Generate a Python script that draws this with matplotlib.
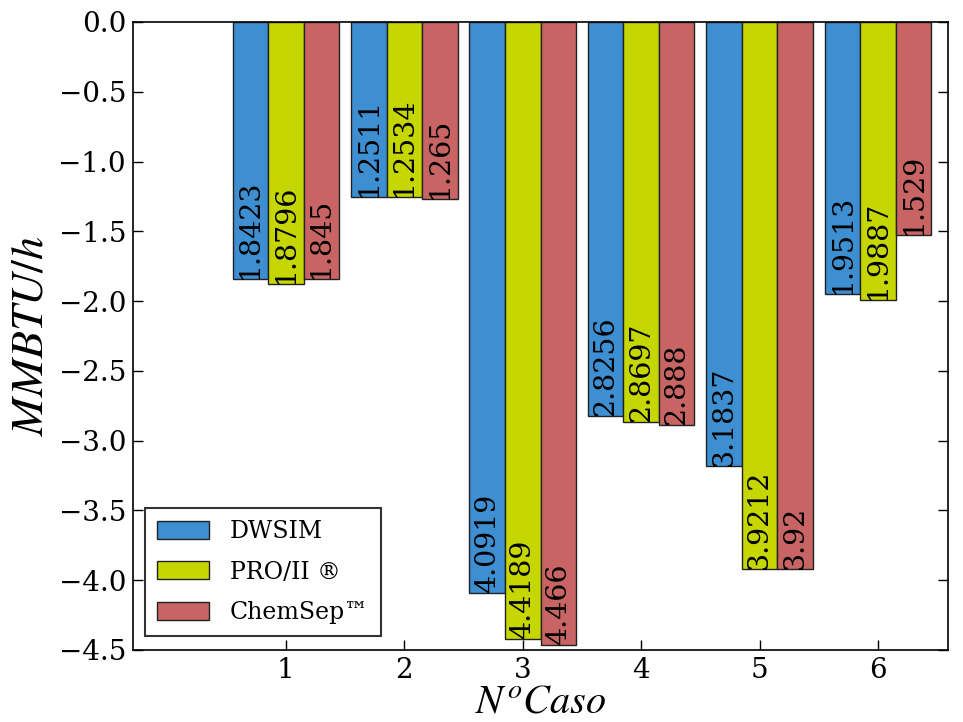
import matplotlib
matplotlib.use("Agg")
import matplotlib.pyplot as plt
import numpy as np

cases = [1, 2, 3, 4, 5, 6]
dwsim = [-1.8423, -1.2511, -4.0919, -2.8256, -3.1837, -1.9513]
proii = [-1.8796, -1.2534, -4.4189, -2.8697, -3.9212, -1.9887]
chemsep = [-1.845, -1.265, -4.466, -2.888, -3.92, -1.529]
dwsim_lbl = ["1.8423", "1.2511", "4.0919", "2.8256", "3.1837", "1.9513"]
proii_lbl = ["1.8796", "1.2534", "4.4189", "2.8697", "3.9212", "1.9887"]
chemsep_lbl = ["1.845", "1.265", "4.466", "2.888", "3.92", "1.529"]
series_names = ["DWSIM", "PRO/II \u00ae", "ChemSep\u2122"]
colors = ["#3d8fd2", "#c5d600", "#c96464"]

plt.rcParams['font.family'] = ['DejaVu Serif']
plt.rcParams['mathtext.fontset'] = 'stix'

fig = plt.figure(figsize=(9.63, 7.22), dpi=100)
ax = fig.add_axes([133/963, 1-650/722, (948-133)/963, (650-22)/722])

x = np.array(cases, dtype=float)
w = 0.3
allvals = [dwsim, proii, chemsep]
alllbl = [dwsim_lbl, proii_lbl, chemsep_lbl]
for i, (vals, lbls) in enumerate(zip(allvals, alllbl)):
    xs = x + (i - 1) * w
    ax.bar(xs, vals, width=w, color=colors[i], edgecolor='#222222', linewidth=1.0,
           label=series_names[i], zorder=2)
    for xi, v, l in zip(xs, vals, lbls):
        ax.text(xi, v, l, rotation=90, ha='center', va='bottom', fontsize=20.5, zorder=3)

ax.set_xlim(-0.29, 6.59)
ax.set_ylim(-4.5, 0.0)
ax.set_xticks(cases)
ax.set_xticklabels([str(c) for c in cases])
yt = np.arange(-4.5, 0.01, 0.5)
ax.set_yticks(yt)
ax.set_yticklabels([("\u2212%.1f" % abs(t)) if t < -0.01 else "0.0" for t in yt])
ax.tick_params(direction='in', length=7, width=1, top=True, right=True, labelsize=20, pad=5)
for s in ax.spines.values():
    s.set_linewidth(1.2)

ax.set_ylabel("$MMBTU/h$", fontsize=33, labelpad=4)
ax.set_xlabel("$N^oCaso$", fontsize=29, labelpad=0)

leg = ax.legend(loc='lower left', fontsize=17, fancybox=False, edgecolor='#333333',
                framealpha=1, handlelength=2.2, handleheight=0.8,
                borderpad=0.5, labelspacing=0.75, handletextpad=0.9,
                borderaxespad=0, bbox_to_anchor=(0.0147, 0.022))
leg.get_frame().set_linewidth(1.5)

fig.savefig("out.png", dpi=100)
